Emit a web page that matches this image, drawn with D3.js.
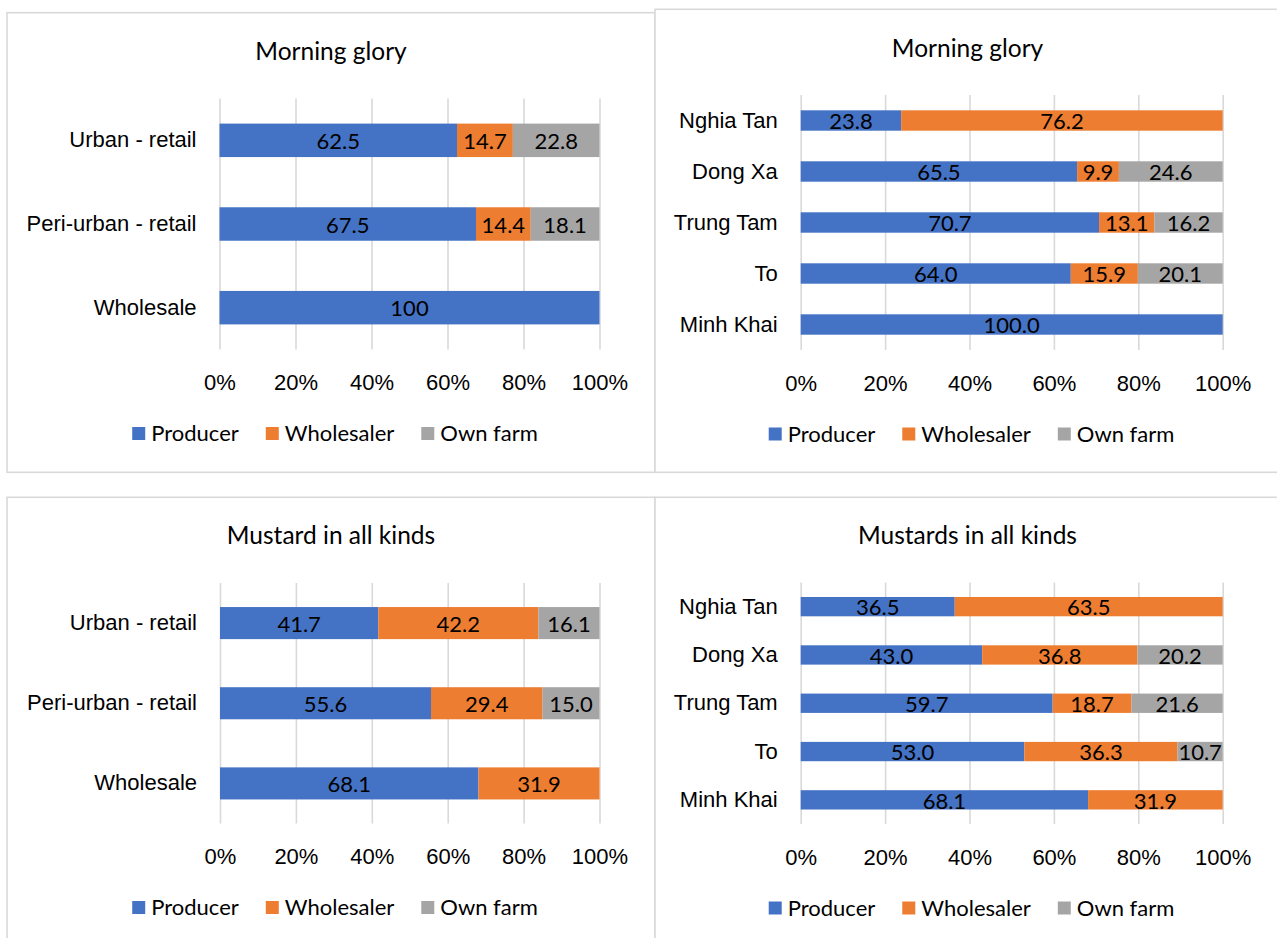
<!DOCTYPE html>
<html>
<head>
<meta charset="utf-8">
<script src="https://cdn.jsdelivr.net/npm/d3@7"></script>
<style>
  html, body { margin: 0; padding: 0; background: #fff; }
  svg { display: block; font-family: Lato, "Noto Sans", sans-serif; }
</style>
</head>
<body>
<svg id="chart" width="1277" height="938"></svg>
<script>
// Source of supply (% of vendors) for two vegetables, by market type and by market
const seriesNames = ["Producer", "Wholesaler", "Own farm"];
const seriesColors = ["#4472C4", "#ED7D31", "#A5A5A5"];
const percentTicks = [0, 20, 40, 60, 80, 100];

const marketTypes = ["Urban - retail", "Peri-urban - retail", "Wholesale"];
const markets = ["Nghia Tan", "Dong Xa", "Trung Tam", "To", "Minh Khai"];

// rows follow the category order, columns follow seriesNames
const morningGloryByType = [[62.5, 14.7, 22.8], [67.5, 14.4, 18.1], [100, 0, 0]];
const morningGloryByMarket = [[23.8, 76.2, 0], [65.5, 9.9, 24.6], [70.7, 13.1, 16.2], [64.0, 15.9, 20.1], [100.0, 0, 0]];
const mustardByType = [[41.7, 42.2, 16.1], [55.6, 29.4, 15.0], [68.1, 31.9, 0]];
const mustardByMarket = [[36.5, 63.5, 0], [43.0, 36.8, 20.2], [59.7, 18.7, 21.6], [53.0, 36.3, 10.7], [68.1, 31.9, 0]];

const titles = ["Morning glory", "Morning glory", "Mustard in all kinds", "Mustards in all kinds"];

// panel frames and plot areas: [x0, y0, x1, y1]
const panels = [
  { title: titles[0], cats: marketTypes, rows: morningGloryByType, fmt: d3.format("~f"),
    frame: [7, 12.7, 655, 472.3], plot: [219.5, 98.5, 599.5, 349.5], titleY: 51.5 },
  { title: titles[1], cats: markets, rows: morningGloryByMarket, fmt: d3.format(".1f"),
    frame: [655, 9.3, 1290, 472.3], plot: [800.7, 95, 1222.7, 350], titleY: 48.3 },
  { title: titles[2], cats: marketTypes, rows: mustardByType, fmt: d3.format(".1f"),
    frame: [7, 497.3, 655, 960], plot: [220, 583, 599.5, 823.5], titleY: 535.5 },
  { title: titles[3], cats: markets, rows: mustardByMarket, fmt: d3.format(".1f"),
    frame: [655, 497.3, 1290, 960], plot: [800.7, 582.5, 1222.7, 824], titleY: 535.5 }
];

const svg = d3.select("#chart");
const gridColor = "#d9d9d9";
const fontSize = 22;

panels.forEach(p => {
  const [fx0, fy0, fx1, fy1] = p.frame;
  const [px0, py0, px1, py1] = p.plot;
  const g = svg.append("g");

  g.append("rect")
    .attr("x", fx0).attr("y", fy0)
    .attr("width", fx1 - fx0).attr("height", fy1 - fy0)
    .attr("fill", "#fff").attr("stroke", gridColor).attr("stroke-width", 1.6);

  g.append("text")
    .attr("x", (fx0 + Math.min(fx1, 1280)) / 2)
    .attr("y", p.titleY).attr("dy", "0.36em")
    .attr("text-anchor", "middle")
    .attr("font-size", 24.5).attr("fill", "#000")
    .text(p.title);

  const x = d3.scaleLinear().domain([0, 100]).range([px0, px1]);
  const y = d3.scaleBand().domain(p.cats).range([py0, py1])
    .paddingInner(0.6).paddingOuter(0.3);

  // vertical gridlines
  const grid = g.append("g")
    .attr("transform", `translate(0,${py1})`)
    .call(d3.axisBottom(x).tickValues(percentTicks).tickSize(-(py1 - py0)).tickFormat(""));
  grid.select(".domain").remove();
  grid.selectAll(".tick line").attr("stroke", gridColor).attr("stroke-width", 1.6);

  // percentage axis labels
  const xAxis = g.append("g")
    .attr("transform", `translate(0,${py1})`)
    .call(d3.axisBottom(x).tickValues(percentTicks).tickFormat(d => d + "%")
      .tickSize(0).tickPadding(25));
  xAxis.select(".domain").remove();
  xAxis.selectAll("text").attr("font-size", fontSize).attr("font-family", null).attr("fill", "#000");

  // category labels
  const yAxis = g.append("g")
    .attr("transform", `translate(${px0},0)`)
    .call(d3.axisLeft(y).tickSize(0).tickPadding(23));
  yAxis.select(".domain").remove();
  yAxis.selectAll("text").attr("font-size", fontSize).attr("font-family", null).attr("fill", "#000");

  // stacked segments
  const segs = [];
  p.rows.forEach((row, i) => {
    let acc = 0;
    row.forEach((v, k) => {
      segs.push({ cat: p.cats[i], k, v, start: acc, end: acc + v });
      acc += v;
    });
  });
  const visible = segs.filter(s => s.v > 0);

  g.append("g").selectAll("rect").data(visible).join("rect")
    .attr("x", d => x(d.start))
    .attr("y", d => y(d.cat))
    .attr("width", d => x(d.end) - x(d.start))
    .attr("height", y.bandwidth())
    .attr("fill", d => seriesColors[d.k]);

  g.append("g").selectAll("text").data(visible).join("text")
    .attr("x", d => (x(d.start) + x(d.end)) / 2)
    .attr("y", d => y(d.cat) + y.bandwidth() / 2)
    .attr("dy", "0.4em")
    .attr("text-anchor", "middle")
    .attr("font-size", fontSize).attr("fill", "#000")
    .text(d => p.fmt(d.v));

  // legend, centred under the plot
  const legendY = py1 + 84;
  const lg = g.append("g");
  let cx = 0;
  seriesNames.forEach((name, k) => {
    const item = lg.append("g").attr("transform", `translate(${cx},0)`);
    item.append("rect").attr("x", 0).attr("y", -6.5).attr("width", 13).attr("height", 13)
      .attr("fill", seriesColors[k]);
    const t = item.append("text").attr("x", 19).attr("dy", "0.36em")
      .attr("font-size", fontSize).attr("fill", "#000").text(name);
    cx += 19 + t.node().getComputedTextLength() + 27;
  });
  const legendW = cx - 27;
  const centre = (fx0 + Math.min(fx1, 1280)) / 2 + 4;
  lg.attr("transform", `translate(${centre - legendW / 2},${legendY})`);
});
</script>
</body>
</html>
